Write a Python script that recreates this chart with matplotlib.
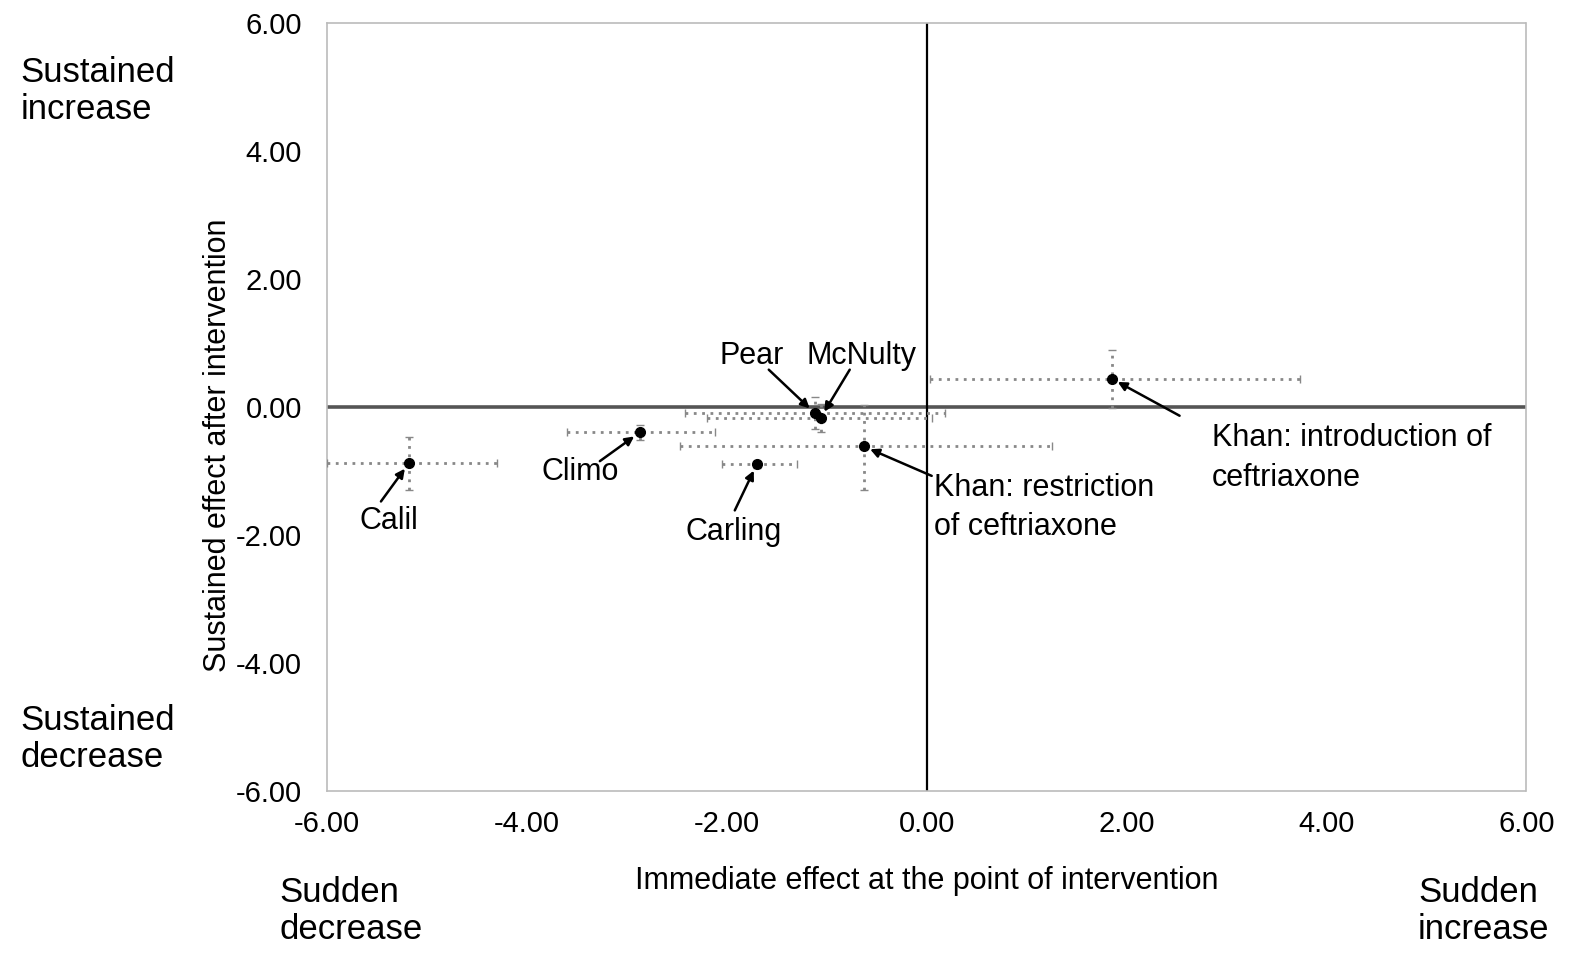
import matplotlib
matplotlib.use("Agg")
import matplotlib.pyplot as plt

plt.rcParams['font.family'] = ['Liberation Sans', 'DejaVu Sans']

# Study estimates: immediate effect (x) and sustained effect (y) with CI bounds
studies = ["Calil", "Climo", "Carling", "Pear", "McNulty",
           "Khan: restriction\nof ceftriaxone", "Khan: introduction of\nceftriaxone"]
immediate = [-5.18, -2.87, -1.70, -1.12, -1.06, -0.63, 1.85]
immediate_lo = [-6.00, -3.60, -2.05, -2.42, -2.20, -2.47, 0.03]
immediate_hi = [-4.30, -2.12, -1.30, 0.18, 0.05, 1.25, 3.73]
sustained = [-0.88, -0.40, -0.90, -0.10, -0.17, -0.62, 0.44]
sustained_lo = [-1.30, -0.52, -0.95, -0.35, -0.40, -1.30, -0.02]
sustained_hi = [-0.47, -0.28, -0.85, 0.15, 0.05, 0.03, 0.89]

# label position (data coords) for each annotation
label_x = [-5.38, -3.47, -1.93, -1.75, -0.65, 0.07, 2.85]
label_y = [-1.78, -1.02, -1.95, 0.80, 0.80, -1.58, -0.80]
label_ha = ["center", "center", "center", "center", "center", "left", "left"]
arrow_start = [(-5.46, -1.48), (-3.27, -0.85), (-1.92, -1.62), (-1.58, 0.58),
               (-0.77, 0.58), (0.05, -1.08), (2.53, -0.14)]

tick_vals = [-6, -4, -2, 0, 2, 4, 6]

fig = plt.figure(figsize=(15.72, 9.56), dpi=100)
ax = fig.add_axes([0.208, 0.173, 0.763, 0.803])

ax.axhline(0, color="#555555", lw=2.6, zorder=1)
ax.axvline(0, color="black", lw=1.6, zorder=1)

xerr = [[m - lo for m, lo in zip(immediate, immediate_lo)],
        [hi - m for m, hi in zip(immediate, immediate_hi)]]
yerr = [[m - lo for m, lo in zip(sustained, sustained_lo)],
        [hi - m for m, hi in zip(sustained, sustained_hi)]]
eb = ax.errorbar(immediate, sustained, xerr=xerr, yerr=yerr, fmt="o",
                 color="black", markersize=7, ecolor="#888888",
                 elinewidth=2, capsize=3, capthick=1, zorder=3)
for col in eb[2]:
    col.set_linestyle((0, (1, 2)))

for i, name in enumerate(studies):
    ax.annotate("", xy=(immediate[i], sustained[i]), xytext=arrow_start[i],
                arrowprops=dict(arrowstyle="-|>", color="black", lw=1.8,
                                mutation_scale=13, shrinkA=0, shrinkB=5))
    ax.text(label_x[i], label_y[i], name, ha=label_ha[i], va="center",
            fontsize=22, linespacing=1.4)

ax.set_xlim(-6, 6)
ax.set_ylim(-6, 6)
ax.set_xticks(tick_vals)
ax.set_yticks(tick_vals)
ax.set_xticklabels([f"{v:.2f}" for v in tick_vals], fontsize=21)
ax.set_yticklabels([f"{v:.2f}" for v in tick_vals], fontsize=21)
ax.tick_params(length=0, pad=18)
ax.tick_params(axis="x", pad=14)
for side in ax.spines.values():
    side.set_color("#bbbbbb")
    side.set_linestyle((0, (2, 1)))
    side.set_linewidth(1.2)

ax.set_xlabel("Immediate effect at the point of intervention", fontsize=22,
              labelpad=20)
ax.set_ylabel("Sustained effect after intervention", fontsize=22)
ax.yaxis.set_label_coords(-0.078, 0.45)

corner_kw = dict(fontsize=25, linespacing=1.15)
fig.text(0.013, 0.905, "Sustained\nincrease", va="center", **corner_kw)
fig.text(0.013, 0.227, "Sustained\ndecrease", va="center", **corner_kw)
fig.text(0.178, 0.047, "Sudden\ndecrease", va="center", **corner_kw)
fig.text(0.902, 0.047, "Sudden\nincrease", va="center", **corner_kw)

fig.savefig("out.png", dpi=100, facecolor="white")
